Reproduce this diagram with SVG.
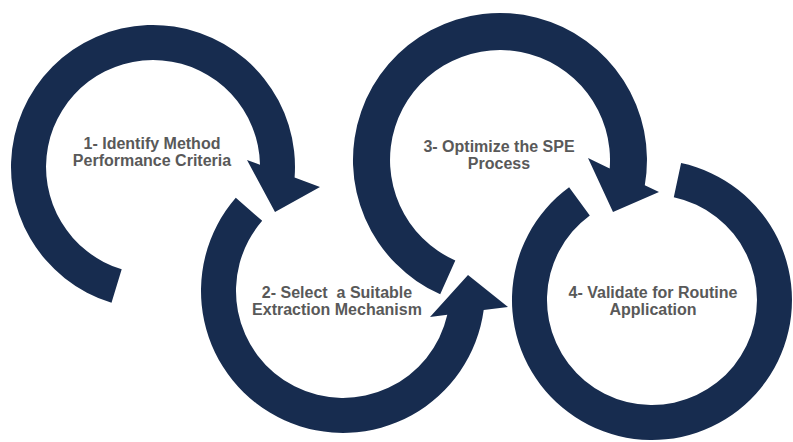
<svg xmlns="http://www.w3.org/2000/svg" width="793" height="442" viewBox="0 0 793 442">
<style>
.arc{fill:#172c4f;stroke:none}
.lbl{font-family:"Liberation Sans",Arial,sans-serif;font-size:16px;font-weight:bold;fill:#595959;text-anchor:middle;white-space:pre}
</style>
<rect width="793" height="442" fill="#ffffff"/>
<g id="connectors">
<path id="arrow1" class="arc" d="M111.5,302.8 A142,142 0 1 1 294.6,177.6 L320,187 L275,212 L247,160 L260,164.8 A107,107 0 1 0 121.7,269.3 Z"/>
<path id="arrow2" class="arc" d="M235.8,197.8 A142,142 0 1 0 483.7,310.1 L508,307 L468,275 L430,317 L447.3,314.8 A107,107 0 1 1 262.2,220.8 Z"/>
<path id="arrow3" class="arc" d="M440.2,294.3 A147,147 0 1 1 644.8,185.2 L659,192 L613,212 L588,158 L609.7,168.4 A110,110 0 1 0 455.3,260.5 Z"/>
<path id="ring4" class="arc" d="M681.1,163.1 A140,140 0 1 1 569.1,187.2 L589.8,215.4 A105,105 0 1 0 673.8,197.3 Z"/>
</g>
<g id="node1">
<text class="lbl" x="152" y="149">1- Identify Method</text>
<text class="lbl" x="152" y="166">Performance Criteria</text>
</g>
<g id="node2">
<text class="lbl" x="337" y="298" xml:space="preserve">2- Select  a Suitable</text>
<text class="lbl" x="337" y="315">Extraction Mechanism</text>
</g>
<g id="node3">
<text class="lbl" x="499" y="152">3- Optimize the SPE</text>
<text class="lbl" x="499" y="169">Process</text>
</g>
<g id="node4">
<text class="lbl" x="653" y="298">4- Validate for Routine</text>
<text class="lbl" x="653" y="315">Application</text>
</g>
</svg>
